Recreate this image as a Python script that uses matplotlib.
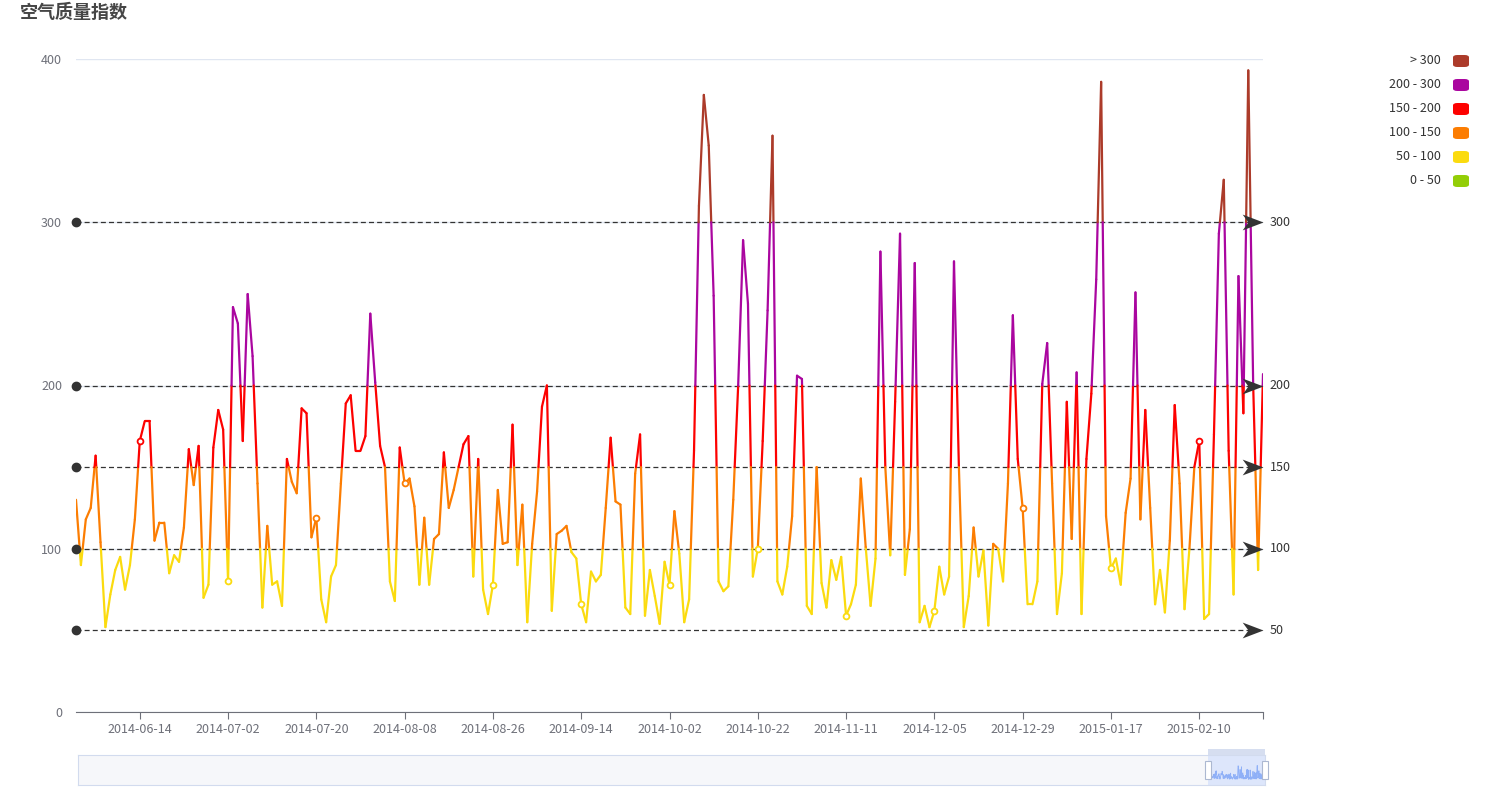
import matplotlib
matplotlib.use('Agg')
import matplotlib.pyplot as plt
import numpy as np
from matplotlib.collections import LineCollection
from matplotlib.patches import FancyBboxPatch, Rectangle
from matplotlib.path import Path

plt.rcParams['font.family'] = ['Noto Sans CJK SC', 'DejaVu Sans']

# daily AQI values (2014-06-01 onwards)
aqi = [130, 90, 118, 125, 157, 104, 52, 72, 87, 95, 75, 90, 118, 166, 178, 178, 105, 116, 116, 85,
       96, 92, 113, 161, 139, 163, 70, 78, 162, 185, 173, 80, 248, 238, 166, 256, 218, 140, 64, 114,
       78, 80, 65, 155, 141, 134, 186, 183, 107, 119, 69, 55, 83, 90, 140, 189, 194, 160, 160, 169,
       244, 202, 163, 150, 80, 68, 162, 140, 143, 126, 78, 119, 78, 106, 109, 159, 125, 136, 150, 164,
       169, 83, 155, 75, 60, 78, 136, 103, 104, 176, 90, 127, 55, 103, 135, 187, 200, 62, 109, 111,
       114, 98, 94, 66, 55, 86, 80, 84, 125, 168, 129, 127, 64, 60, 146, 170, 59, 87, 71, 54,
       92, 78, 123, 97, 55, 69, 160, 310, 378, 347, 255, 80, 74, 77, 130, 200, 289, 250, 83, 100,
       166, 246, 353, 80, 72, 89, 120, 206, 204, 65, 60, 150, 79, 64, 93, 81, 95, 59, 66, 78,
       143, 101, 65, 94, 282, 150, 96, 190, 293, 84, 112, 275, 55, 65, 52, 62, 89, 72, 83, 276,
       150, 52, 71, 113, 83, 99, 53, 103, 100, 80, 140, 243, 155, 125, 66, 66, 80, 201, 226, 140,
       60, 85, 190, 106, 208, 60, 155, 195, 265, 386, 120, 88, 94, 78, 122, 143, 257, 118, 185, 125,
       66, 87, 61, 105, 188, 140, 63, 100, 150, 166, 57, 60, 170, 293, 326, 160, 72, 267, 183, 393,
       200, 87, 207]

tick_labels = ['2014-06-14', '2014-07-02', '2014-07-20', '2014-08-08', '2014-08-26', '2014-09-14',
               '2014-10-02', '2014-10-22', '2014-11-11', '2014-12-05', '2014-12-29', '2015-01-17',
               '2015-02-10']
first_label, label_step = 13, 18

thresholds = [50, 100, 150, 200, 300]
piece_labels = ['0 - 50', '50 - 100', '100 - 150', '150 - 200', '200 - 300', '> 300']
piece_colors = ['#93CE07', '#FBDB0F', '#FC7D02', '#FD0100', '#AA069F', '#AC3B2A']
mark_values = [50, 100, 150, 200, 300]

W, H = 1486, 793
fig = plt.figure(figsize=(W / 100, H / 100), dpi=100)
ax = fig.add_axes([76 / W, 1 - 712 / H, (1263 - 76) / W, (712 - 59) / H])

def band(v):
    return int(np.searchsorted(thresholds, v, side='left'))

# split every segment where it crosses a piece boundary, like the visualMap does
segs, cols = [], []
for i in range(len(aqi) - 1):
    y0, y1 = aqi[i], aqi[i + 1]
    ts = sorted((t - y0) / (y1 - y0) for t in thresholds if min(y0, y1) < t < max(y0, y1))
    ps = [0.0] + ts + [1.0]
    for a, b in zip(ps[:-1], ps[1:]):
        pa = (i + a, y0 + a * (y1 - y0))
        pb = (i + b, y0 + b * (y1 - y0))
        segs.append([pa, pb])
        cols.append(piece_colors[band((pa[1] + pb[1]) / 2)])

lc = LineCollection(segs, colors=cols, linewidths=1.6, capstyle='round', joinstyle='round', zorder=4)
ax.add_collection(lc)

# symbols only at the labelled categories
n = len(aqi)
lab_idx = list(range(first_label, n, label_step))
for i in lab_idx:
    ax.plot(i, aqi[i], 'o', ms=4.2, mfc='white', mec=piece_colors[band(aqi[i])], mew=1.3, zorder=5)

ax.set_xlim(0, n - 1)
ax.set_ylim(0, 400)
ax.set_yticks([0, 100, 200, 300, 400])
ax.grid(axis='y', color='#E0E6F1', lw=1)
ax.set_axisbelow(True)
for s in ['top', 'right', 'left']:
    ax.spines[s].set_visible(False)
ax.spines['bottom'].set_color('#6E7079')
ax.tick_params(axis='y', length=0, labelsize=9, labelcolor='#6E7079', pad=10)
ax.set_xticks(lab_idx + [n - 1])
ax.set_xticklabels(tick_labels + [''])
ax.tick_params(axis='x', length=5, color='#6E7079', labelsize=9, labelcolor='#6E7079', pad=3)

# mark lines
arrow = Path([(0, 0), (-1, 0.38), (-0.72, 0), (-1, -0.38), (0, 0)],
             [Path.MOVETO, Path.LINETO, Path.LINETO, Path.LINETO, Path.CLOSEPOLY])
for v in mark_values:
    ax.plot([0, n - 1], [v, v], ls=(0, (4, 2.5)), color='#333333', lw=0.9, zorder=3)
    ax.plot(0, v, 'o', ms=6, color='#333333', clip_on=False, zorder=6)
    ax.plot(n - 1, v, marker=arrow, ms=30, color='#333333', mew=0, clip_on=False, zorder=6)
    ax.annotate(str(v), (n - 1, v), xytext=(5, 0), textcoords='offset points',
                va='center', ha='left', fontsize=9, color='#333333')

fig.text(20 / W, 1 - 13 / H, '空气质量指数', fontsize=13, fontweight='bold', color='#464646',
         va='center', ha='left')

# legend of the pieces
for k, (lab, c) in enumerate(zip(piece_labels[::-1], piece_colors[::-1])):
    yc = 1 - (61 + 24 * k) / H
    fig.text(1441 / W, yc, lab, fontsize=9, color='#333333', ha='right', va='center')
    fig.patches.append(FancyBboxPatch((1453 / W, yc - 6 / H), 16 / W, 12 / H,
                                      boxstyle='round,pad=0,rounding_size=0.003',
                                      transform=fig.transFigure, fc=c, ec='none'))

# data zoom slider
zx0, zx1, zy0, zy1 = 78, 1265, 755, 785
zax = fig.add_axes([zx0 / W, 1 - zy1 / H, (zx1 - zx0) / W, (zy1 - zy0) / H])
zax.set_xlim(zx0, zx1)
zax.set_ylim(0, 1)
zax.set_facecolor('#F6F7FA')
for s in zax.spines.values():
    s.set_color('#D2DBEE')
zax.set_xticks([])
zax.set_yticks([])
sel0 = 1208
zax.add_patch(Rectangle((sel0, 0), zx1 - sel0, 1, fc='#DDE6FB', ec='none'))
xs = np.linspace(sel0, zx1, n)
zax.plot(xs, 0.12 + np.array(aqi) / 400 * 0.55, color='#8FB0F7', lw=0.6)
fig.patches.append(Rectangle((sel0 / W, 1 - zy0 / H), (zx1 - sel0) / W, 6 / H,
                             transform=fig.transFigure, fc='#D6DEF0', ec='none'))
for hx in [sel0, zx1]:
    fig.patches.append(Rectangle(((hx - 3) / W, 1 - 779 / H), 6 / W, 18 / H,
                                 transform=fig.transFigure, fc='white', ec='#ACB8D1', lw=0.8,
                                 zorder=5))

fig.savefig('out.png', dpi=100)
